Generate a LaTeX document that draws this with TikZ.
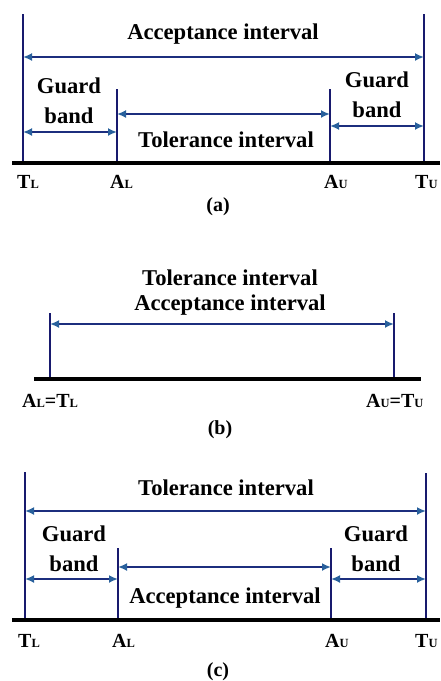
\documentclass[tikz,border=0pt]{standalone}
\usepackage{fontspec}
\setmainfont{Liberation Serif}
\usetikzlibrary{arrows.meta}

\definecolor{linenavy}{RGB}{24,26,110}
\definecolor{arrownavy}{RGB}{28,46,126}
\definecolor{tipblue}{RGB}{40,96,156}

\tikzset{
  limit/.style={draw=linenavy, line width=2pt},
  axisline/.style={draw=black, line width=3.5pt},
  span/.style={draw=arrownavy, line width=2pt,
    {Latex[length=9pt,width=8pt,color=tipblue]}-{Latex[length=9pt,width=8pt,color=tipblue]}},
  lbl/.style={font=\fontsize{22.6}{30}\selectfont\bfseries, inner sep=0pt, anchor=base, align=center},
  endlbl/.style={font=\fontsize{20}{20}\selectfont\bfseries, inner sep=0pt, anchor=base west},
  caption/.style={font=\fontsize{20}{20}\selectfont\bfseries, inner sep=0pt}
}
\newcommand{\lowcap}[1]{{\fontsize{12.5}{12.5}\selectfont #1}}

\begin{document}
\begin{tikzpicture}[x=1pt, y=-1pt]
  \useasboundingbox (0,0) rectangle (440,681);

  % (a) guard bands inside the tolerance interval
  \coordinate (aleft) at (12,163);
  \coordinate (aright) at (440,163);
  \foreach \n/\x/\t in {TL/23/14, AL/117/89, AU/330/89, TU/424/14} {
    \coordinate (a\n) at (\x,\t);
    \coordinate (a\n b) at (\x,163);
    \draw[limit] (a\n) -- (a\n b);
  }
  \draw[axisline] (aleft) -- (aright);
  \draw[span] (aTL |- 0,57) -- (aTU |- 0,57);
  \draw[span] (aTL |- 0,132) -- (aAL |- 0,132);
  \draw[span] (aAL |- 0,114) -- (aAU |- 0,114);
  \draw[span] (aAU |- 0,126) -- (aTU |- 0,126);
  \node[lbl] (aacc) at (223,39) {Acceptance interval};
  \node[lbl] (aguardl) at (69,123) {Guard\\band};
  \node[lbl] (aguardr) at (377,117) {Guard\\band};
  \node[lbl] (atol) at (226,147) {Tolerance interval};
  \node[endlbl] (aTLlbl) at (17,188) {T\lowcap{L}};
  \node[endlbl] (aALlbl) at (110,188) {A\lowcap{L}};
  \node[endlbl] (aAUlbl) at (324,188) {A\lowcap{U}};
  \node[endlbl] (aTUlbl) at (415,188) {T\lowcap{U}};
  \node[caption] (acap) at (218,207) {(a)};

  % (b) no guard band
  \coordinate (bleft) at (34,379);
  \coordinate (bright) at (421,379);
  \foreach \n/\x in {L/50, U/394} {
    \coordinate (b\n) at (\x,313);
    \coordinate (b\n b) at (\x,379);
    \draw[limit] (b\n) -- (b\n b);
  }
  \draw[axisline] (bleft) -- (bright);
  \draw[span] (bL |- 0,324) -- (bU |- 0,324);
  \node[lbl] (btol) at (230,285) {Tolerance interval};
  \node[lbl] (bacc) at (230,310) {Acceptance interval};
  \node[endlbl] (bLlbl) at (22,407) {A\lowcap{L}=T\lowcap{L}};
  \node[endlbl] (bUlbl) at (366,407) {A\lowcap{U}=T\lowcap{U}};
  \node[caption] (bcap) at (220,430) {(b)};

  % (c) guard bands outside the tolerance interval
  \coordinate (cleft) at (12,620);
  \coordinate (cright) at (440,620);
  \foreach \n/\x/\t in {TL/25/472, AL/118/548, AU/331/548, TU/426/473} {
    \coordinate (c\n) at (\x,\t);
    \coordinate (c\n b) at (\x,620);
    \draw[limit] (c\n) -- (c\n b);
  }
  \draw[axisline] (cleft) -- (cright);
  \draw[span] (cTL |- 0,511) -- (cTU |- 0,511);
  \draw[span] (cTL |- 0,579) -- (cAL |- 0,579);
  \draw[span] (cAL |- 0,567) -- (cAU |- 0,567);
  \draw[span] (cAU |- 0,579) -- (cTU |- 0,579);
  \node[lbl] (ctol) at (226,495) {Tolerance interval};
  \node[lbl] (cguardl) at (74,571) {Guard\\band};
  \node[lbl] (cguardr) at (376,571) {Guard\\band};
  \node[lbl] (cacc) at (225,603) {Acceptance interval};
  \node[endlbl] (cTLlbl) at (18,647) {T\lowcap{L}};
  \node[endlbl] (cALlbl) at (112,647) {A\lowcap{L}};
  \node[endlbl] (cAUlbl) at (325,647) {A\lowcap{U}};
  \node[endlbl] (cTUlbl) at (415,647) {T\lowcap{U}};
  \node[caption] (ccap) at (218,672) {(c)};
\end{tikzpicture}
\end{document}
